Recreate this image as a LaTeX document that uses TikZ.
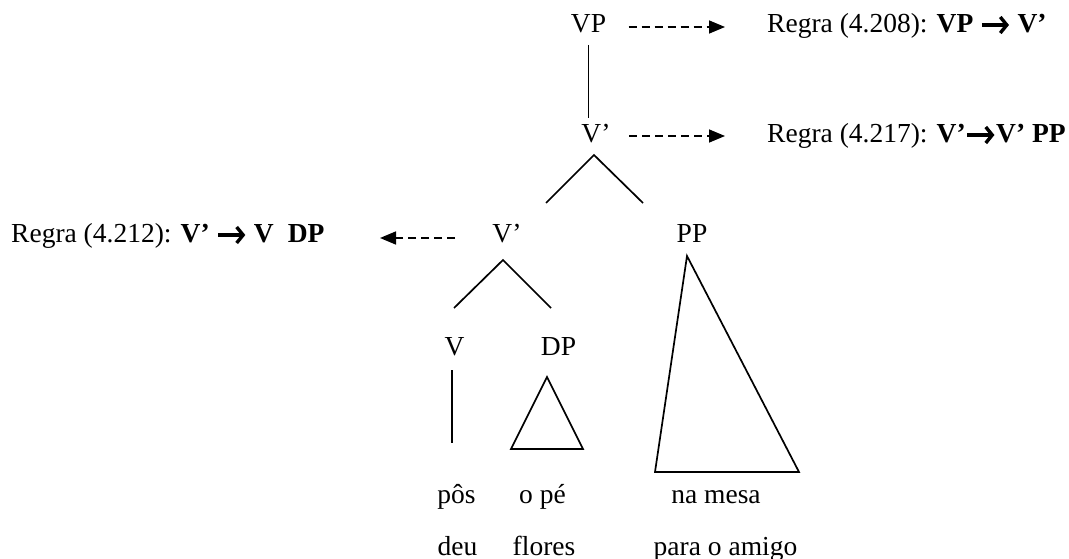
\documentclass[tikz,border=0pt]{standalone}
\usepackage{fontspec}
\setmainfont{Liberation Serif}
\usetikzlibrary{arrows.meta, positioning, calc}

\newcommand{\seta}{\tikz[baseline={(0,-8pt)}, x=1pt, y=1pt]
    \draw[line width=3.4pt, -{Straight Barb[length=6.5pt, width=16pt, line width=3.4pt]}] (0,0) -- (27,0);}

\begin{document}
\begin{tikzpicture}[x=1pt, y=-1pt, >={Triangle[length=16pt, width=13pt]},
    every node/.style={font=\fontsize{27.5}{30}\selectfont, inner sep=0pt, anchor=base},
    ramo/.style={line width=1.7pt},
    tracejado/.style={->, dash pattern=on 8pt off 5pt, line width=1.6pt}]
    \useasboundingbox (0,0) rectangle (1069,559);

    % 1. Nós da árvore
    \node (vp) at (588.5,33) {VP};
    \node (vbar1) at (596,143) {V’};
    \node (vbar2) at (507,243) {V’};
    \node (pp) at (692,243) {PP};
    \node (v) at (454.5,355) {V};
    \node (dp) at (558.5,355) {DP};

    % 2. Palavras
    \node (pos) at (456.5,503) {pôs};
    \node (ope) at (542.5,503) {o pé};
    \node (mesa) at (716,503) {na mesa};
    \node (deu) at (457.5,555) {deu};
    \node (flores) at (544,555) {flores};
    \node (amigo) at (725.5,555) {para o amigo};

    % 3. Regras
    \node[anchor=base west] (regra1) at (767,33) {Regra (4.208): \textbf{VP \seta{} V’}};
    \node[anchor=base west] (regra2) at (767,143) {Regra (4.217): \textbf{V’\seta V’ PP}};
    \node[anchor=base west] (regra3) at (11,243) {Regra (4.212): \textbf{V’ \seta{} V\hspace{14pt}DP}};

    % 4. Setas tracejadas
    \draw[tracejado] ($(vp.base)+(40,-6)$) -- ($(regra1.base west)+(-42,-6)$);
    \draw[tracejado] ($(vbar1.base)+(33,-7)$) -- ($(regra2.base west)+(-42,-7)$);
    \draw[tracejado] ($(vbar2.base)+(-52,-5)$) -- ++(-75,0);

    % 5. Ramos
    \draw[ramo] ($(vp.base)+(0,12)$) -- ($(vp.base)+(0,85)$);
    \draw[ramo] ($(vbar1.base)+(-50,60)$) -- ($(vbar1.base)+(-2,12)$) -- ($(vbar1.base)+(47,60)$);
    \draw[ramo] ($(vbar2.base)+(-53,65)$) -- ($(vbar2.base)+(-4,17)$) -- ($(vbar2.base)+(44,65)$);
    \draw[ramo] ($(v.base)+(-2.5,15)$) -- ($(v.base)+(-2.5,88)$);

    % 6. Triângulos
    \draw[ramo] ($(dp.base)+(-11.5,22)$) -- ($(dp.base)+(-47.5,94)$) -- ($(dp.base)+(24.5,94)$) -- cycle;
    \draw[ramo] ($(pp.base)+(-5,13)$) -- ($(pp.base)+(-37,229)$) -- ($(pp.base)+(107,229)$) -- cycle;
\end{tikzpicture}
\end{document}
